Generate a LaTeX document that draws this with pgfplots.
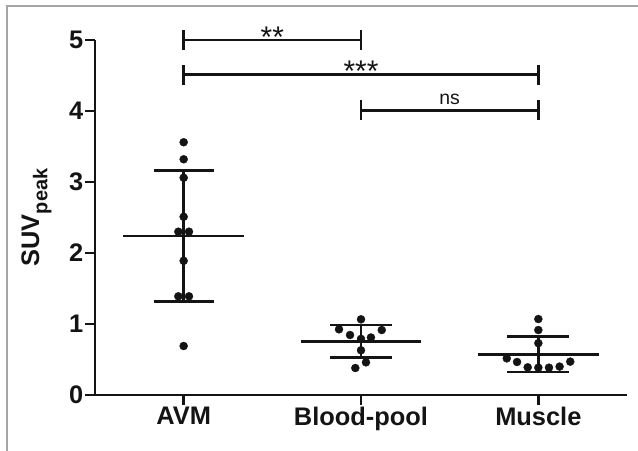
\documentclass[border=0pt]{standalone}
\usepackage{fontspec}
\setmainfont{Liberation Sans}
\usepackage{pgfplots}
\pgfplotsset{compat=1.18}

\definecolor{framegray}{RGB}{165,165,165}
\definecolor{ink}{RGB}{20,20,20}

\begin{document}
\begin{tikzpicture}
\path[use as bounding box] (-95bp,-56bp) rectangle (543bp,395bp);
\draw[line width=1.5bp, framegray] (-88bp,-70bp) -- (-88bp,389bp) -- (560bp,389bp);
\begin{axis}[
    at={(0,0)}, anchor=south west,
    scale only axis,
    width=532bp, height=355bp,
    xmin=-0.5, xmax=2.5,
    ymin=0, ymax=5,
    axis x line*=bottom,
    axis y line*=left,
    axis line style={line width=2.8bp, ink, -},
    xtick={0,1,2},
    xticklabels={AVM, Blood-pool, Muscle},
    ytick={0,1,2,3,4,5},
    tick align=outside,
    major tick length=10bp,
    tick style={line width=2.8bp, ink},
    /pgf/number format/assume math mode=true,
    tick label style={font=\fontsize{25.5}{30}\selectfont\bfseries, inner sep=1.5bp, text=ink},
    ylabel={SUV\raisebox{-0.32em}{\fontsize{20}{24}\selectfont peak}},
    ylabel style={font=\fontsize{25.5}{30}\selectfont\bfseries, text=ink,
        at={(axis description cs:-0.110,0.5)}, anchor=center},
    clip=false,
]
% individual values
\addplot[only marks, mark=*, mark size=4bp, ink] coordinates {
    (0,3.56) (0,3.32) (0,3.06) (0,2.51) (-0.03,2.30) (0.03,2.30)
    (0,1.89) (-0.03,1.39) (0.03,1.39) (0,0.69)
};
\addplot[only marks, mark=*, mark size=4bp, ink] coordinates {
    (1,1.066) (0.876,0.925) (1.117,0.915) (0.938,0.845) (1,0.79)
    (1.056,0.81) (1,0.63) (1.028,0.46) (0.968,0.38)
};
\addplot[only marks, mark=*, mark size=4bp, ink] coordinates {
    (2,1.07) (2,0.915) (2,0.73) (1.822,0.516) (1.88,0.465) (2.18,0.47)
    (1.94,0.39) (2,0.385) (2.06,0.385) (2.12,0.40)
};

% mean +- SD
\pgfplotsset{msd/.style={ink, line width=2.8bp, no marks, forget plot}}
% AVM
\addplot[msd] coordinates {(-0.34,2.24) (0.34,2.24)};
\addplot[msd] coordinates {(-0.17,3.16) (0.17,3.16)};
\addplot[msd] coordinates {(-0.17,1.32) (0.17,1.32)};
\addplot[msd] coordinates {(0,1.32) (0,3.16)};
% Blood-pool
\addplot[msd] coordinates {(0.66,0.756) (1.34,0.756)};
\addplot[msd] coordinates {(0.825,0.986) (1.175,0.986)};
\addplot[msd] coordinates {(0.825,0.53) (1.175,0.53)};
\addplot[msd] coordinates {(1,0.53) (1,0.986)};
% Muscle
\addplot[msd] coordinates {(1.66,0.575) (2.34,0.575)};
\addplot[msd] coordinates {(1.825,0.82) (2.175,0.82)};
\addplot[msd] coordinates {(1.825,0.324) (2.175,0.324)};
\addplot[msd] coordinates {(2,0.324) (2,0.82)};

% significance brackets
\draw[ink, line width=2.8bp]
    (axis cs:0,4.86) -- (axis cs:0,5.14)
    (axis cs:0,5) -- (axis cs:1,5)
    (axis cs:1,4.86) -- (axis cs:1,5.14);
\draw[ink, line width=2.8bp]
    (axis cs:0,4.37) -- (axis cs:0,4.65)
    (axis cs:0,4.51) -- (axis cs:2,4.51)
    (axis cs:2,4.37) -- (axis cs:2,4.65);
\draw[ink, line width=2.8bp]
    (axis cs:1,3.87) -- (axis cs:1,4.15)
    (axis cs:1,4.01) -- (axis cs:2,4.01)
    (axis cs:2,3.87) -- (axis cs:2,4.15);
\node[font=\fontsize{30}{32}\selectfont, anchor=base, inner sep=0pt, text=ink] at (axis cs:0.5,4.90) {**};
\node[font=\fontsize{30}{32}\selectfont, anchor=base, inner sep=0pt, text=ink] at (axis cs:1,4.41) {***};
\node[font=\fontsize{19.5}{22}\selectfont, anchor=base, inner sep=0pt, text=ink] at (axis cs:1.5,4.095) {ns};
\end{axis}
\end{tikzpicture}
\end{document}
